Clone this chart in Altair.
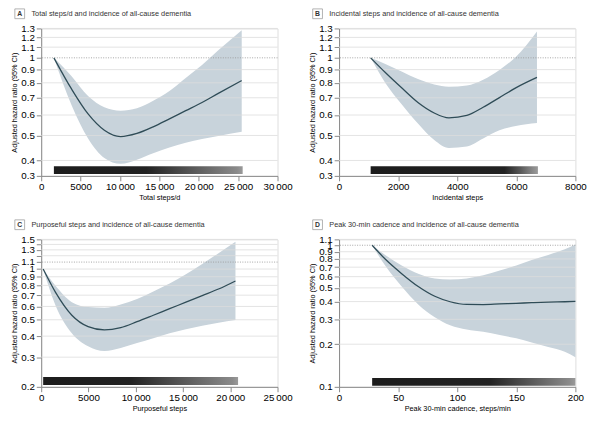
import altair as alt
import pandas as pd

FONT = "Liberation Sans, Arial, sans-serif"

# ---------------- data ----------------
# Panel A: total steps/d
a_x = [1611, 3884, 5950, 8016, 10082, 12148, 14214, 16280, 18346, 20412, 22478, 25453]
a_hr = [1.0, 0.754, 0.606, 0.524, 0.495, 0.509, 0.540, 0.580, 0.624, 0.671, 0.728, 0.816]
a_hi = [1.0, 0.847, 0.711, 0.643, 0.624, 0.637, 0.681, 0.743, 0.835, 0.938, 1.069, 1.28]
a_lo = [1.0, 0.652, 0.487, 0.409, 0.388, 0.403, 0.427, 0.449, 0.469, 0.485, 0.498, 0.517]
a_rug = [1611, 25575]

# Panel B: incidental steps
b_x = [1069, 1566, 2118, 2670, 3222, 3718, 4325, 4877, 5429, 5981, 6699]
b_hr = [1.0, 0.877, 0.765, 0.671, 0.611, 0.585, 0.598, 0.643, 0.701, 0.765, 0.840]
b_hi = [1.0, 0.946, 0.885, 0.827, 0.788, 0.772, 0.781, 0.823, 0.898, 1.008, 1.265]
b_lo = [1.0, 0.799, 0.661, 0.556, 0.480, 0.447, 0.453, 0.487, 0.524, 0.544, 0.559]
b_rug = [1069, 6731]

# Panel C: purposeful steps
c_x = [207, 1517, 3241, 4965, 6688, 8412, 10136, 11860, 13584, 15308, 17032, 18756, 20549]
c_hr = [1.0, 0.727, 0.532, 0.455, 0.435, 0.449, 0.487, 0.532, 0.582, 0.636, 0.696, 0.761, 0.850]
c_hi = [1.0, 0.795, 0.636, 0.595, 0.590, 0.617, 0.665, 0.737, 0.820, 0.930, 1.073, 1.243, 1.453]
c_lo = [1.0, 0.608, 0.416, 0.348, 0.326, 0.340, 0.364, 0.389, 0.416, 0.439, 0.461, 0.480, 0.498]
c_rug = [207, 20825]

# Panel D: peak 30-min cadence
d_x = [28, 39, 53, 67, 81, 94, 108, 122, 136, 150, 163, 177, 191, 200]
d_hr = [1.0, 0.799, 0.630, 0.511, 0.436, 0.399, 0.382, 0.381, 0.385, 0.389, 0.393, 0.397, 0.399, 0.401]
d_hi = [1.0, 0.855, 0.719, 0.630, 0.583, 0.573, 0.583, 0.614, 0.664, 0.719, 0.786, 0.855, 0.935, 1.012]
d_lo = [1.0, 0.719, 0.511, 0.382, 0.310, 0.272, 0.254, 0.245, 0.232, 0.220, 0.206, 0.191, 0.177, 0.162]
d_rug = [28, 200]

titles = [
    "Total steps/d and incidence of all-cause dementia",
    "Incidental steps and incidence of all-cause dementia",
    "Purposeful steps and incidence of all-cause dementia",
    "Peak 30-min cadence and incidence of all-cause dementia",
]
letters = ["A", "B", "C", "D"]
x_titles = ["Total steps/d", "Incidental steps", "Purposeful steps", "Peak 30-min cadence, steps/min"]
x_domains = [[0, 30000], [0, 8000], [0, 25000], [0, 200]]
x_ticks = [
    [0, 5000, 10000, 15000, 20000, 25000, 30000],
    [0, 2000, 4000, 6000, 8000],
    [0, 5000, 10000, 15000, 20000, 25000],
    [0, 50, 100, 150, 200],
]
# A and B use a broken axis: bottom tick is labelled 0.3
y_ticks_ab = [0.3485, 0.4, 0.5, 0.6, 0.7, 0.8, 0.9, 1, 1.1, 1.2, 1.3]
y_ticks_c = [0.2, 0.3, 0.4, 0.5, 0.6, 0.7, 0.8, 0.9, 1, 1.1, 1.2, 1.3, 1.4, 1.5]
y_ticks_d = [0.1, 0.2, 0.3, 0.4, 0.5, 0.6, 0.7, 0.8, 0.9, 1, 1.1]
y_domains = [[0.3485, 1.3], [0.3485, 1.3], [0.2, 1.5], [0.1, 1.1]]
ref_lines = [1.0, 1.0, 1.1, 1.0]

BAND = "#c8d3db"
LINE = "#2f4c57"
GRID = "#dcdcdc"
TEXT = "#333333"

W, H = 242, 151


def rug_gradient(dark_until):
    return alt.Gradient(
        gradient="linear",
        x1=0, x2=1, y1=0, y2=0,
        stops=[
            alt.GradientStop(color="#1c1c1c", offset=0),
            alt.GradientStop(color="#222222", offset=dark_until),
            alt.GradientStop(color="#555555", offset=dark_until + (1 - dark_until) * 0.45),
            alt.GradientStop(color="#8a8a8a", offset=0.97),
            alt.GradientStop(color="#9a9a9a", offset=1),
        ],
    )


def panel(i, xs, hr, hi, lo, rug, y_ticks, label_expr, dark_until, rug_y):
    df = pd.DataFrame({"x": xs, "hr": hr, "hi": hi, "lo": lo})
    xsc = alt.Scale(domain=x_domains[i], nice=False)
    ysc = alt.Scale(type="log", domain=y_domains[i], nice=False)
    x_label_expr = "datum.value >= 10000 ? floor(datum.value/1000) + '\u2009000' : datum.value + ''"
    xaxis = alt.Axis(values=x_ticks[i], title=x_titles[i], labelExpr=x_label_expr, grid=False,
                     titleFontWeight="normal", labelOverlap=False, labelFlush=False,
                     titlePadding=2, labelPadding=1, titleFontSize=7.5)
    yaxis = alt.Axis(values=y_ticks, title="Adjusted hazard ratio (95% CI)", labelExpr=label_expr,
                     grid=False, titleFontWeight="normal", labelOverlap=False, labelFlush=False,
                     titlePadding=2, labelPadding=2, titleFontSize=7.5)

    base = alt.Chart(df)
    band = base.mark_area(color=BAND, interpolate="monotone").encode(
        x=alt.X("x:Q", scale=xsc, axis=xaxis),
        y=alt.Y("lo:Q", scale=ysc, axis=yaxis),
        y2="hi:Q",
    )
    grid_df = pd.DataFrame({"g": [v for v in y_ticks if v != ref_lines[i] and v != y_ticks[0]]})
    grid = alt.Chart(grid_df).mark_rule(color=GRID, strokeWidth=0.8).encode(
        y=alt.Y("g:Q", scale=ysc)
    )
    ref = alt.Chart(pd.DataFrame({"r": [ref_lines[i]]})).mark_rule(
        color="#9a9a9a", strokeWidth=0.9, strokeDash=[1, 1.5]
    ).encode(y=alt.Y("r:Q", scale=ysc))
    line = base.mark_line(color=LINE, strokeWidth=1.3, interpolate="monotone").encode(
        x=alt.X("x:Q", scale=xsc), y=alt.Y("hr:Q", scale=ysc)
    )
    rug_df = pd.DataFrame({"x0": [rug[0]], "x1": [rug[1]]})
    rugm = alt.Chart(rug_df).mark_rect(color=rug_gradient(dark_until)).encode(
        x=alt.X("x0:Q", scale=xsc), x2="x1:Q",
        y=alt.value(rug_y[0]), y2=alt.value(rug_y[1]),
    )
    tdf = pd.DataFrame({"t": [titles[i]], "l": [letters[i]]})
    box = alt.Chart(tdf).mark_square(filled=False, size=100, stroke="#777777", strokeWidth=0.8).encode(
        x=alt.value(-22), y=alt.value(-15)
    )
    letter = alt.Chart(tdf).mark_text(fontSize=7, fontWeight="bold", color=TEXT, font=FONT).encode(
        text="l:N", x=alt.value(-22), y=alt.value(-14.5)
    )
    title = alt.Chart(tdf).mark_text(fontSize=7.5, align="left", color=TEXT, font=FONT).encode(
        text="t:N", x=alt.value(-10), y=alt.value(-15)
    )
    return alt.layer(band, grid, ref, line, rugm, box, letter, title).properties(width=W, height=H)


lbl_ab = "datum.value < 0.35 ? '0.3' : format(datum.value, '~g')"
lbl_c = "(abs(datum.value-1.2) < 0.001 || abs(datum.value-1.4) < 0.001) ? '' : format(datum.value, '~g')"
lbl_d = "format(datum.value, '~g')"

pa = panel(0, a_x, a_hr, a_hi, a_lo, a_rug, y_ticks_ab, lbl_ab, 0.49, (141, 149))
pb = panel(1, b_x, b_hr, b_hi, b_lo, b_rug, y_ticks_ab, lbl_ab, 0.80, (141, 149))
pc = panel(2, c_x, c_hr, c_hi, c_lo, c_rug, y_ticks_c, lbl_c, 0.45, (141, 149))
pd_ = panel(3, d_x, d_hr, d_hi, d_lo, d_rug, y_ticks_d, lbl_d, 0.58, (142, 150))

chart = alt.concat(pa, pb, pc, pd_, columns=2, spacing=alt.RowColnumber(row=16, column=15)).configure_view(
    stroke=None
).configure_axis(
    labelFont=FONT, titleFont=FONT, labelFontSize=7.5, titleFontSize=7.5,
    labelColor=TEXT, titleColor=TEXT, titleFontWeight="normal",
    domainColor="#666666", tickColor="#666666", tickSize=3, domainWidth=0.8, tickWidth=0.8,
).configure(font=FONT).properties(padding={"top": -7, "left": 2, "right": 5, "bottom": 2})

chart.save("out.html", embed_options={"renderer": "svg", "actions": False})
